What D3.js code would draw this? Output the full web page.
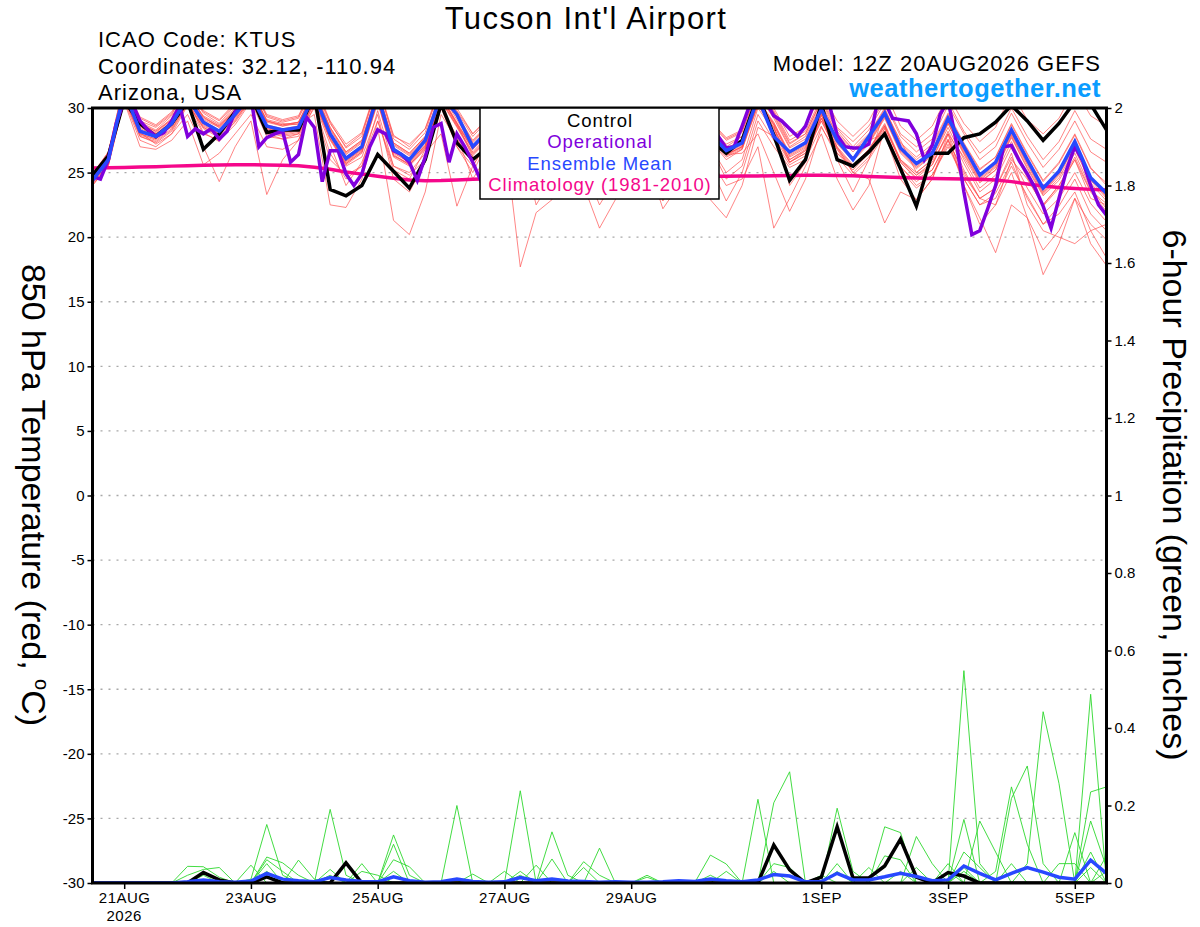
<!DOCTYPE html>
<html><head><meta charset="utf-8">
<script src="https://cdn.jsdelivr.net/npm/d3@7"></script>
<style>
body{margin:0;background:#fff}
svg{display:block}
text{font-family:"Liberation Sans",Arial,Helvetica,sans-serif}
</style>
</head><body>
<svg id="chart" width="1200" height="927"></svg>
<script>
// ---------------- DATA ----------------
const startTime = Date.UTC(2026, 7, 20, 12);           // 12Z 20AUG2026
const hours6 = d3.range(0, 385, 6);                      // 65 steps, GEFS 6-hourly
const hours3 = d3.range(0, 385, 3);                      // 129 steps, operational 3-hourly

const tempTicks = [-30,-25,-20,-15,-10,-5,0,5,10,15,20,25,30];
const precipTicks = [0,0.2,0.4,0.6,0.8,1,1.2,1.4,1.6,1.8,2];
const precipTickLabels = ["0","0.2","0.4","0.6","0.8","1","1.2","1.4","1.6","1.8","2"];
const dateTicks = ["2026-08-21","2026-08-23","2026-08-25","2026-08-27","2026-08-29","2026-09-01","2026-09-03","2026-09-05"];
const dateTickLabels = ["21AUG","23AUG","25AUG","27AUG","29AUG","1SEP","3SEP","5SEP"];
const legendLabels = ["Control","Operational","Ensemble Mean","Climatology (1981-2010)"];

// 850 hPa temperature (deg C)
const tempControl = [24.8,26.3,30.6,28.8, 27.8,28.8,30.5,26.8, 28.0,29.7,31.0,28.1, 28.3,28.3,31.0,23.7,
  23.2,24.0,26.4,25.1, 23.8,26.0,30.3,27.3, 26.0,27.0,30.0,27.5, 26.5,27.5,30.5,28.0, 26.5,27.5,30.0,28.0,
  26.5,27.5,30.0,27.5, 26.5,27.5,31.0,27.9, 24.4,26.0,30.3,26.0, 25.5,26.6,28.0,25.3, 22.4,26.5,26.5,27.7,
  28.0,28.9,30.2,29.0, 27.5,28.8,30.5,30.3, 28.3];
const tempMean = [24.4,26.0,31.3,28.2, 27.8,28.8,30.8,28.9, 28.2,29.5,31.0,28.6, 28.3,28.5,31.0,28.0,
  26.1,27.0,31.0,26.8, 26.0,27.5,31.0,29.5, 27.0,28.3,31.0,28.2, 27.0,28.0,31.0,28.4, 27.0,28.0,31.0,28.4,
  27.0,27.8,31.0,28.0, 26.7,27.3,30.8,27.8, 26.6,27.3,29.9,27.5, 26.0,27.8,29.6,26.9, 25.7,26.5,29.2,27.0,
  24.8,25.8,28.3,26.0, 23.8,25.1,27.4,24.6, 23.4];
const tempOperational = [24.7,24.5,26.0,28.8,30.6,30.4,29.0,28.3,27.8,28.1,
  29.0,30.2,27.8,28.4,28.0,28.4,27.6,28.2,29.7,30.8,
  30.8,27.0,27.7,28.0,28.2,25.8,26.4,29.3,28.5,24.3,
  26.7,26.7,24.9,24.0,24.9,27.0,28.3,28.0,26.7,26.4,
  25.8,24.4,26.2,28.5,28.8,25.8,28.0,27.0,25.8,24.4,
  26.5,29.0,30.5,30.0,28.5,27.5,26.8,27.0,28.0,29.5,
  30.5,30.2,29.0,28.0,27.0,27.2,28.0,29.5,30.4,30.2,
  29.0,28.0,27.0,27.3,28.2,29.5,30.5,30.3,29.0,27.8,
  26.9,27.0,28.6,30.3,30.8,30.5,29.4,29.0,28.4,27.8,
  28.6,30.2,30.8,30.3,27.9,27.0,26.9,26.9,27.2,30.2,
  30.5,29.2,29.1,29.0,28.0,26.0,27.1,29.5,30.6,27.5,
  23.5,20.2,20.5,22.2,24.0,27.0,27.1,25.9,24.9,23.8,
  22.4,20.7,23.0,25.3,27.0,25.9,24.0,22.5,21.7];
const tempClimatology = [25.35,25.38,25.40,25.43,25.46,25.50,25.53,25.56,25.58,25.60,
  25.60,25.59,25.57,25.52,25.42,25.25,25.05,24.88,24.72,24.56,
  24.42,24.36,24.38,24.43,24.48,24.52,24.55,24.57,24.59,24.61,
  24.62,24.63,24.64,24.65,24.66,24.67,24.68,24.69,24.70,24.71,
  24.72,24.73,24.74,24.76,24.78,24.79,24.80,24.78,24.75,24.70,
  24.66,24.62,24.58,24.55,24.53,24.50,24.48,24.42,24.30,24.12,
  23.96,23.85,23.77,23.70,23.65];

const tm01 = [24.8,26.5,31.8,29.0, 28.5,29.5,31.5,29.6, 28.8,30.2,31.8,29.3, 28.9,29.2,31.6,28.8, 27.0,28.0,31.8,27.8, 27.2,28.4,31.6,29.8, 28.0,29.2,31.8,29.0, 28.0,29.0,31.7,29.2, 27.8,28.9,31.5,29.1, 27.8,28.6,31.5,28.9, 27.6,28.2,31.4,29.8, 27.5,28.2,30.8,28.5, 27.4,28.6,30.6,28.0, 27.0,28.0,30.5,28.2, 26.5,27.5,30.0,27.8, 26.0,27.4,29.8,27.6, 26.8];
const tm02 = [24.0,25.5,30.6,27.5, 27.0,28.0,30.2,28.0, 27.5,28.7,30.5,27.8, 27.6,27.8,30.4,27.2, 24.0,25.8,29.0,25.2, 24.5,26.8,30.4,27.0, 25.0,27.5,29.8,26.0, 23.5,26.0,29.5,27.0, 24.0,25.5,29.0,26.5, 22.8,25.0,29.5,27.0, 24.5,25.5,29.5,27.5, 25.6,26.3,29.0,26.5, 25.2,26.5,28.6,25.8, 24.6,25.6,28.2,25.7, 23.5,24.5,27.0,24.6, 22.4,23.8,26.0,23.5, 22.0];
const tm03 = [24.2,25.8,31.0,28.4, 27.9,28.5,30.6,28.1, 27.4,29.0,30.8,28.0, 27.6,28.0,30.0,26.0, 24.8,25.5,28.5,21.3, 20.2,23.5,29.5,27.5, 26.3,27.6,30.5,27.8, 26.5,27.6,30.8,28.0, 26.8,27.8,31.0,28.2, 26.5,27.5,30.6,27.5, 26.0,26.8,30.5,28.5, 25.8,26.5,29.2,26.8, 25.0,26.2,28.2,25.5, 24.0,24.8,27.0,24.5, 22.5,23.0,25.5,23.2, 21.0,21.8,23.5,20.5, 18.4];
const tm04 = [24.6,26.2,31.5,28.6, 28.0,29.0,31.2,29.3, 28.5,29.8,31.5,29.0, 28.6,28.9,31.2,28.5, 26.6,27.5,31.3,27.3, 26.5,27.8,31.0,28.8, 26.2,26.5,28.0,17.7, 21.9,22.9,28.5,27.8, 27.2,28.2,31.2,28.6, 27.3,28.0,31.2,28.4, 27.0,27.8,31.0,29.4, 27.0,27.8,30.3,28.0, 26.8,28.0,30.0,27.3, 26.2,27.2,29.6,27.3, 25.3,26.2,28.8,26.5, 24.4,25.8,28.0,25.4, 24.0];
const tm05 = [24.5,26.1,31.2,28.0, 27.6,28.6,30.6,28.7, 28.0,29.3,30.8,28.4, 28.1,28.3,30.8,27.8, 25.9,26.8,30.7,26.5, 25.8,27.1,30.8,28.7, 26.8,28.0,30.8,27.9, 26.8,27.6,29.0,24.0, 20.7,22.9,28.0,27.6, 26.6,27.4,30.7,27.7, 26.4,27.0,30.6,28.8, 26.3,27.0,29.6,27.3, 26.0,27.3,29.3,26.6, 25.4,26.4,28.9,26.6, 24.5,25.5,28.0,25.7, 23.5,24.9,27.1,24.5, 23.2];
const tm06 = [24.3,25.9,31.4,28.3, 27.7,28.9,30.9,29.0, 28.3,29.6,31.1,28.7, 28.4,28.6,31.1,28.1, 26.2,27.1,31.1,26.9, 26.1,27.4,31.1,29.1, 27.1,28.4,31.1,28.3, 27.1,28.1,31.1,28.5, 27.1,28.1,31.1,28.5, 27.1,27.9,30.5,26.0, 24.0,24.5,27.0,20.7, 23.0,25.5,28.0,24.5, 22.1,24.0,28.5,26.0, 25.0,26.0,28.8,26.5, 24.4,25.4,27.9,25.6, 23.4,24.8,27.0,24.4, 23.0];
const tm07 = [24.7,26.4,31.6,28.8, 28.2,29.2,31.1,29.2, 28.6,29.9,31.3,29.0, 28.7,28.9,31.3,28.4, 26.5,27.4,31.4,27.2, 26.4,27.7,31.4,29.4, 27.4,28.7,31.4,28.6, 27.4,28.4,31.4,28.8, 27.3,28.4,31.3,28.7, 26.5,26.0,25.0,22.9, 21.5,24.0,28.5,27.8, 25.8,26.7,29.4,27.0, 25.0,24.5,21.1,23.5, 22.9,24.5,28.0,26.2, 24.2,25.2,27.8,25.4, 23.3,24.6,26.8,24.2, 22.8];
const tm08 = [24.1,25.7,30.8,27.9, 27.5,28.4,30.4,28.5, 27.9,29.2,30.7,28.3, 28.0,28.2,30.7,27.7, 25.8,26.7,30.6,26.4, 25.6,26.9,30.6,28.6, 26.6,27.9,30.6,27.8, 26.6,27.6,30.6,28.0, 26.6,27.6,30.6,28.0, 26.6,27.4,30.6,27.6, 26.3,26.9,30.2,28.5, 26.0,26.8,29.2,27.0, 25.6,26.8,28.6,25.8, 24.5,25.2,27.5,24.0, 21.5,18.8,22.5,21.5, 17.1,19.5,23.0,21.0, 19.8];
const tm09 = [24.5,26.0,30.9,28.1, 27.2,28.0,29.5,27.0, 24.3,27.0,29.0,23.3, 26.0,27.5,30.6,27.6, 25.7,26.6,30.6,26.3, 25.7,27.0,30.8,28.8, 26.9,28.2,30.9,28.0, 26.9,27.9,30.9,28.3, 26.9,27.9,30.9,28.3, 26.9,27.7,30.9,27.8, 26.5,27.1,30.5,28.8, 26.4,27.1,29.7,27.4, 26.1,27.4,29.4,26.7, 25.5,26.5,29.0,26.7, 24.6,25.6,28.1,25.8, 23.6,25.0,27.2,24.6, 23.1];
const tm10 = [24.6,26.3,31.7,28.9, 28.3,29.4,31.0,29.4, 28.7,30.0,31.4,29.1, 28.8,28.7,29.5,22.5, 22.3,24.5,29.0,25.5, 25.0,26.5,28.0,22.4, 25.5,27.5,30.5,27.5, 26.5,27.5,30.6,28.0, 26.7,27.7,30.8,28.1, 26.8,27.6,30.8,27.8, 26.4,27.0,30.4,28.7, 26.2,26.9,29.5,27.2, 25.9,27.2,29.2,26.5, 25.3,26.3,28.8,26.4, 24.3,25.2,27.7,25.3, 23.2,24.4,26.5,23.8, 22.2];
const tm11 = [24.9,26.6,31.9,29.2, 28.6,29.6,31.4,29.7, 29.0,30.3,31.9,29.4, 29.0,29.3,31.8,28.9, 26.9,27.8,31.8,27.6, 26.8,28.1,31.8,29.7, 27.8,29.1,31.8,29.0, 27.8,28.8,31.8,29.2, 27.8,28.8,31.7,29.2, 27.8,28.6,31.7,28.8, 27.5,28.1,31.5,29.7, 27.3,28.0,30.5,28.2, 26.8,27.5,28.0,24.5, 22.9,24.5,27.5,25.0, 23.0,23.8,26.5,22.5, 20.5,20.0,19.5,20.5, 21.0];
const tm12 = [24.8,26.6,31.9,29.3, 28.7,29.7,31.6,29.8, 29.1,30.4,31.9,29.5, 29.1,29.4,31.9,29.0, 27.2,28.1,31.9,27.9, 27.0,28.4,31.9,30.0, 28.0,29.3,31.9,29.2, 28.0,29.0,31.9,29.4, 28.0,29.0,31.9,29.4, 28.0,28.8,31.9,29.0, 27.7,28.3,31.8,30.0, 27.8,28.5,31.2,29.0, 27.8,29.0,31.3,28.6, 27.5,28.6,31.0,28.8, 27.4,28.5,31.2,29.1, 28.0,29.2,31.5,29.4, 28.6];
const tm13 = [24.3,25.8,30.8,27.8, 27.3,28.2,30.3,28.4, 27.7,28.9,30.6,28.1, 27.8,28.0,30.5,27.5, 25.6,26.5,30.4,26.2, 25.5,26.8,30.5,28.5, 26.4,27.7,30.4,27.6, 22.5,24.5,28.5,26.5, 25.5,26.8,29.0,26.0, 22.2,24.0,28.5,27.0, 25.0,26.0,30.0,28.2, 25.8,26.5,29.0,26.8, 25.4,26.6,28.4,25.4, 24.3,25.2,27.6,24.8, 23.0,23.8,26.2,23.8, 21.8,23.0,25.0,22.6, 21.2];
const tm14 = [24.6,26.1,31.1,28.5, 28.0,28.8,30.8,28.8, 28.1,29.4,30.9,28.5, 28.2,28.4,30.9,27.9, 26.0,26.9,30.9,26.7, 25.9,27.2,30.9,28.9, 26.9,28.2,30.9,28.1, 26.9,27.9,30.9,28.3, 26.9,27.9,30.9,28.3, 26.9,27.7,30.9,27.9, 26.6,27.2,30.7,28.9, 26.5,27.2,29.8,27.5, 26.2,27.5,29.5,26.8, 25.6,26.6,29.1,26.8, 24.7,25.7,28.2,25.9, 23.7,25.1,27.3,24.7, 23.3];
const tm15 = [24.2,25.6,30.7,27.8, 27.4,28.3,30.4,28.5, 27.8,29.1,30.6,28.2, 27.9,28.1,30.6,27.6, 25.7,26.6,30.5,26.3, 25.6,26.9,30.6,28.6, 26.5,27.8,30.6,27.7, 26.5,27.5,30.5,27.9, 26.5,27.5,30.5,27.9, 26.5,27.3,30.5,27.5, 26.2,26.8,30.2,28.4, 26.0,26.7,29.2,26.9, 25.5,26.7,28.7,25.9, 24.8,25.6,28.0,25.2, 23.0,22.5,25.0,21.5, 19.0,20.5,23.0,19.5, 17.8];
const tm16 = [24.7,26.4,31.4,28.7, 28.2,29.1,31.2,29.3, 28.6,29.8,31.5,29.0, 28.7,28.9,31.5,28.5, 26.6,27.5,31.4,27.3, 26.5,27.8,31.4,29.5, 27.5,28.8,31.4,28.7, 27.5,28.5,31.4,28.9, 27.4,28.5,31.4,28.9, 27.4,28.3,31.4,28.5, 27.2,27.8,31.3,29.5, 27.2,28.0,30.6,28.4, 27.0,28.3,30.4,27.8, 26.6,27.6,30.2,28.0, 26.0,27.0,29.6,27.3, 25.4,26.8,29.0,26.6, 25.8];
const tm17 = [24.0,25.6,30.5,27.0, 26.8,27.5,29.0,25.6, 26.5,28.0,29.5,27.0, 26.8,27.5,30.2,26.5, 24.5,25.5,29.8,25.5, 24.8,26.0,30.0,27.8, 24.5,26.5,30.2,26.0, 25.0,26.0,29.0,25.5, 22.5,24.5,29.0,26.5, 24.8,26.0,29.5,25.5, 22.8,25.0,29.0,27.0, 25.4,26.0,28.6,26.2, 24.8,26.0,28.0,25.2, 23.8,24.8,27.2,24.5, 22.5,23.4,25.8,23.0, 21.0,22.4,24.5,21.8, 20.5];
const tm18 = [24.5,26.2,31.6,28.6, 28.1,29.1,31.0,29.1, 28.5,29.7,31.2,28.9, 28.6,28.8,31.2,28.3, 26.4,27.3,31.2,27.1, 26.3,27.6,31.2,29.3, 27.3,28.6,31.2,28.5, 27.2,28.2,31.2,28.6, 27.2,28.2,31.2,28.6, 27.2,28.0,31.2,28.2, 26.9,27.5,31.0,29.2, 26.9,27.6,30.2,27.9, 26.6,27.9,29.9,27.2, 26.0,27.0,29.5,27.2, 25.2,26.2,28.7,26.4, 24.3,25.7,27.9,25.3, 24.2];
const tm19 = [24.3,25.9,31.0,28.0, 27.6,28.6,30.6,28.6, 28.0,29.3,30.8,28.4, 28.1,28.3,30.8,27.8, 25.9,26.8,30.8,26.6, 25.8,27.1,30.8,28.8, 26.8,28.1,30.8,28.0, 26.8,27.8,30.8,28.2, 26.8,27.8,30.8,28.2, 26.8,27.6,30.8,27.8, 26.4,26.5,28.0,25.0, 22.0,24.5,28.5,26.5, 25.5,26.8,28.8,26.0, 24.8,25.8,28.0,24.0, 21.0,22.5,26.0,24.5, 22.5,24.0,26.0,23.0, 22.5];
const tm20 = [24.4,26.0,31.2,28.2, 27.8,28.7,30.7,28.8, 28.1,29.4,30.9,28.5, 28.2,28.4,30.9,27.9, 25.5,26.2,29.5,24.5, 23.5,25.8,30.0,27.0, 25.5,27.5,30.5,27.5, 26.7,27.7,30.7,28.1, 26.7,27.7,30.7,28.1, 26.7,27.5,30.7,27.7, 26.4,27.0,30.4,28.7, 24.0,25.8,29.5,26.0, 23.5,26.0,29.8,27.5, 25.0,26.0,28.5,26.0, 23.8,24.8,27.4,24.9, 22.5,24.0,26.2,23.6, 22.6];
const tempMembers = [tm01,tm02,tm03,tm04,tm05,tm06,tm07,tm08,tm09,tm10,tm11,tm12,tm13,tm14,tm15,tm16,tm17,tm18,tm19,tm20];

// 6-hour precipitation (inches)
const precipControl = [0,0,0,0,0,0,0,.027,.008,0, 0,.016,0,0,0,0,.052,0,0,0, 0,0,0,0,0,0,0,0,0,0,
  0,0,0,0,0,0,0,0,0,0, 0,0,0,.098,.034,0,.015,.145,.013,.013, .044,.113,.015,0,.027,.018,0,0,0,0, 0,0,0,0,0];
const precipMean = [0,0,0,0,0,0,.003,.008,.003,.002, .005,.025,.01,.006,.003,.014,.008,.004,.003,.016,
  .006,.002,.003,.01,.004,.002,.003,.014,.006,.01, .005,.004,.002,.003,.002,.002,.003,.006,.004,.01,
  .006,.003,.008,.022,.018,.003,.004,.025,.008,.008, .016,.025,.017,.006,.008,.044,.025,.008,.025,.04,
  .028,.015,.01,.059,.025];
// ensemble members: [step index, amount] for every non-zero 6-hour total (all other steps are 0)
const pmA = [[6,.043],[7,.042],[8,.015],[15,.035],[27,.02],[42,.216],[55,.03],[64,.07]];
const pmB = [[6,.02],[7,.035],[8,.04],[23,.2],[46,.02],[56,.16],[57,.08]];
const pmC = [[7,.02],[19,.124],[20,.02],[39,.02],[47,.193],[48,.03],[63,.16],[64,.04]];
const pmD = [[10,.046],[19,.1],[29,.062],[47,.05],[58,.218],[59,.302],[60,.05]];
const pmE = [[10,.01],[11,.151],[12,.02],[19,.03],[31,.04],[47,.03],[55,.548],[56,.05]];
const pmF = [[11,.067],[12,.052],[13,.02],[24,.023],[32,.09],[49,.04],[55,.164],[63,.04]];
const pmG = [[11,.06],[12,.03],[23,.01],[35,.02],[43,.03],[50,.145],[51,.13],[63,.08]];
const pmH = [[11,.05],[13,.059],[14,.01],[27,.03],[35,.015],[50,.07],[51,.06],[58,.05],[62,.13]];
const pmI = [[11,.03],[27,.238],[51,.03],[55,.08],[56,.04]];
const pmJ = [[15,.19],[16,.02],[43,.207],[44,.287],[61,.05],[62,.05],[64,.03]];
const pmK = [[15,.02],[17,.05],[29,.132],[30,.02],[52,.12],[53,.05],[63,.487]];
const pmL = [[17,.03],[18,.02],[26,.03],[39,.072],[40,.049],[52,.04],[55,.04],[63,.235],[64,.248]];
const pmM = [[19,.06],[20,.042],[28,.046],[40,.03],[54,.05],[57,.03],[58,.248],[59,.1]];
const pmN = [[31,.055],[32,.02],[43,.05],[44,.04],[54,.03],[59,.05],[60,.442],[61,.257]];
const precipMemberSpikes = [pmA,pmB,pmC,pmD,pmE,pmF,pmG,pmH,pmI,pmJ,pmK,pmL,pmM,pmN];

// ---------------- CHART ----------------
const W = 1200, H = 927;
const L = 92.5, R = 1106.5, T = 108, B = 883;
const COL = {member:"#ff4a4a", green:"#2ed82e", control:"#000000", oper:"#8000dc", mean:"#2848ff", clim:"#f5078b", site:"#0a9cff"};

const svg = d3.select("#chart");
svg.append("rect").attr("width", W).attr("height", H).attr("fill", "#fff");

const toDate = h => new Date(startTime + h * 3600e3);
const x = d3.scaleUtc().domain([toDate(0), toDate(384)]).range([L, R]);
const yT = d3.scaleLinear().domain([-30, 30]).range([B, T]);
const yP = d3.scaleLinear().domain([0, 2]).range([B, T]);

const precipMembers = precipMemberSpikes.map(sp => {
  const a = hours6.map(() => 0);
  sp.forEach(([i, v]) => { a[i] = v; });
  return a;
});

svg.append("defs").append("clipPath").attr("id", "plotclip")
  .append("rect").attr("x", L).attr("y", T).attr("width", R - L).attr("height", B - T);

// grid
svg.append("g").selectAll("line").data(tempTicks.filter(t => t > -30 && t < 30)).join("line")
  .attr("x1", L).attr("x2", R).attr("y1", d => yT(d)).attr("y2", d => yT(d))
  .attr("stroke", "#a8a8a8").attr("stroke-width", 1.4).attr("stroke-dasharray", "2,6");

const plot = svg.append("g").attr("clip-path", "url(#plotclip)");
const line6T = d3.line().x((d, i) => x(toDate(hours6[i]))).y(d => yT(d));
const line3T = d3.line().x((d, i) => x(toDate(hours3[i]))).y(d => yT(d));
const line6P = d3.line().x((d, i) => x(toDate(hours6[i]))).y(d => yP(d));

plot.append("g").selectAll("path").data(tempMembers).join("path")
  .attr("d", line6T).attr("fill", "none").attr("stroke", COL.member)
  .attr("stroke-width", 0.8).attr("stroke-opacity", 0.85).attr("stroke-linejoin", "miter");
plot.append("g").selectAll("path").data(precipMembers).join("path")
  .attr("d", line6P).attr("fill", "none").attr("stroke", COL.green)
  .attr("stroke-width", 0.9);

plot.append("path").datum(tempClimatology).attr("d", line6T).attr("fill", "none")
  .attr("stroke", COL.clim).attr("stroke-width", 3.5);
plot.append("path").datum(tempControl).attr("d", line6T).attr("fill", "none")
  .attr("stroke", COL.control).attr("stroke-width", 3.5).attr("stroke-linejoin", "miter");
plot.append("path").datum(tempOperational).attr("d", line3T).attr("fill", "none")
  .attr("stroke", COL.oper).attr("stroke-width", 3.5).attr("stroke-linejoin", "miter");
plot.append("path").datum(tempMean).attr("d", line6T).attr("fill", "none")
  .attr("stroke", COL.mean).attr("stroke-width", 3.5).attr("stroke-linejoin", "miter");
plot.append("path").datum(precipControl).attr("d", line6P).attr("fill", "none")
  .attr("stroke", COL.control).attr("stroke-width", 3.5).attr("stroke-linejoin", "miter");
plot.append("path").datum(precipMean).attr("d", line6P).attr("fill", "none")
  .attr("stroke", COL.mean).attr("stroke-width", 3.5).attr("stroke-linejoin", "miter");

// axes
const axL = svg.append("g").attr("transform", `translate(${L},0)`)
  .call(d3.axisLeft(yT).tickValues(tempTicks).tickSize(5).tickPadding(3).tickFormat(d => String(d)));
const axR = svg.append("g").attr("transform", `translate(${R},0)`)
  .call(d3.axisRight(yP).tickValues(precipTicks).tickSize(5).tickPadding(3).tickFormat((d, i) => precipTickLabels[i]));
const tickDates = dateTicks.map(s => new Date(s + "T00:00:00Z"));
const axB = svg.append("g").attr("transform", `translate(0,${B})`)
  .call(d3.axisBottom(x).tickValues(tickDates).tickSize(6).tickPadding(3).tickFormat((d, i) => dateTickLabels[i]));
[axL, axR, axB].forEach(g => {
  g.select(".domain").remove();
  g.selectAll(".tick line").attr("stroke", "#000").attr("stroke-width", 1.5);
  g.selectAll("text").attr("font-family", '"Liberation Sans",Arial,sans-serif').attr("font-size", 15).attr("fill", "#000");
});
axB.selectAll("text").attr("letter-spacing", 0.5);
svg.append("text").attr("x", x(tickDates[0])).attr("y", 921).attr("text-anchor", "middle")
  .attr("font-size", 15).attr("letter-spacing", 0.5).text("2026");

// frame
svg.append("rect").attr("x", L).attr("y", T).attr("width", R - L).attr("height", B - T)
  .attr("fill", "none").attr("stroke", "#000").attr("stroke-width", 3);

// legend
const lg = svg.append("g");
lg.append("rect").attr("x", 480).attr("y", T).attr("width", 239).attr("height", 91)
  .attr("fill", "#fff").attr("stroke", "#000").attr("stroke-width", 1.5);
const legCols = [COL.control, COL.oper, COL.mean, COL.clim];
const legY = [127, 148, 170, 191];
lg.selectAll("text").data(legendLabels).join("text")
  .attr("x", 600).attr("y", (d, i) => legY[i]).attr("text-anchor", "middle")
  .attr("font-size", 18.5).attr("letter-spacing", 0.9).attr("fill", (d, i) => legCols[i]).text(d => d);

// titles
svg.append("text").attr("x", 586).attr("y", 28.5).attr("text-anchor", "middle")
  .attr("font-size", 31).attr("letter-spacing", 1.4).text("Tucson Int'l Airport");
const hdr = [["ICAO Code: KTUS", 47], ["Coordinates: 32.12, -110.94", 73.5], ["Arizona, USA", 100]];
svg.selectAll("text.hdr").data(hdr).join("text").attr("class", "hdr")
  .attr("x", 98).attr("y", d => d[1]).attr("font-size", 22).attr("letter-spacing", 1).text(d => d[0]);
svg.append("text").attr("x", 1101).attr("y", 71).attr("text-anchor", "end")
  .attr("font-size", 22).attr("letter-spacing", 1).text("Model: 12Z 20AUG2026 GEFS");
svg.append("text").attr("x", 1101).attr("y", 97).attr("text-anchor", "end")
  .attr("font-size", 25.5).attr("letter-spacing", 0.5).attr("font-weight", "bold").attr("fill", COL.site).text("weathertogether.net");

// axis titles (rotated, reading top to bottom)
const lt = svg.append("text").attr("transform", "translate(22,495) rotate(90)")
  .attr("text-anchor", "middle").attr("font-size", 34);
lt.append("tspan").text("850 hPa Temperature (red, ");
lt.append("tspan").attr("font-size", 20).attr("dy", -13).text("o");
lt.append("tspan").attr("dy", 13).text("C)");
svg.append("text").attr("transform", "translate(1163,495) rotate(90)")
  .attr("text-anchor", "middle").attr("font-size", 34).text("6-hour Precipitation (green, inches)");
</script>
</body></html>
